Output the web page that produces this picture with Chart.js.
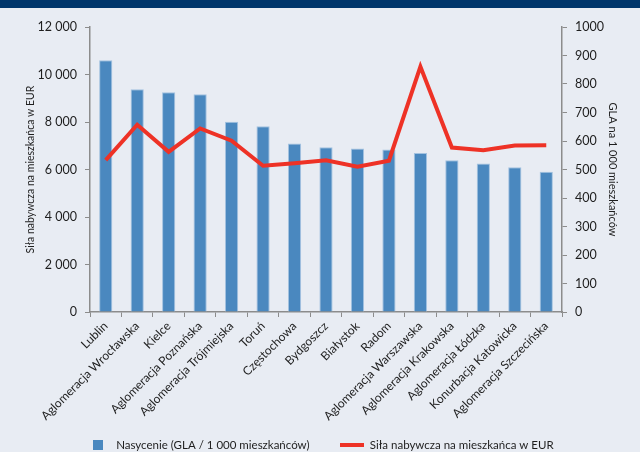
<!DOCTYPE html>
<html>
<head>
<meta charset="utf-8">
<script src="https://cdn.jsdelivr.net/npm/chart.js@4/dist/chart.umd.min.js"></script>
<style>
  html, body { margin: 0; padding: 0; }
  body {
    width: 640px;
    height: 452px;
    background: linear-gradient(#00366b 0, #00366b 8px, #e8ecf3 8px);
  }
  canvas { display: block; }
</style>
</head>
<body>
<canvas id="city_chart" width="640" height="452"></canvas>
<script>
const city_labels = [
    "Lublin", "Aglomeracja Wrocławska", "Kielce", "Aglomeracja Poznańska",
    "Aglomeracja Trójmiejska", "Toruń", "Częstochowa", "Bydgoszcz", "Białystok",
    "Radom", "Aglomeracja Warszawska", "Aglomeracja Krakowska", "Aglomeracja Łódzka",
    "Konurbacja Katowicka", "Aglomeracja Szczecińska"
];
const bar_values = [10600, 9380, 9250, 9170, 8010, 7820, 7100, 6940, 6880, 6840, 6690, 6390, 6250, 6090, 5910];
const line_values = [533, 657, 562, 644, 601, 513, 522, 532, 510, 531, 861, 577, 568, 584, 585];
const bar_label = "Nasycenie (GLA / 1 000 mieszkańców)";
const line_label = "Siła nabywcza na mieszkańca w EUR";

const blue = "#4a88bf";
const red = "#ee3226";
const axis_grey = "#8c8c8c";
const text_col = "#1e1e1e";

// small pictures used as legend markers
function legendIcon(w, h, colour)
{
    const c = document.createElement("canvas");
    c.width = w;
    c.height = h;
    const g = c.getContext("2d");
    g.fillStyle = colour;
    g.fillRect(0, 0, w, h);
    return c;
}
const bar_icon = legendIcon(10, 10, blue);
const line_icon = legendIcon(24, 4, red);

function spaced(v)
{
    return String(v).replace(/\B(?=(\d{3})+(?!\d))/g, " ");
}

Chart.defaults.font.family = "Lato, 'Open Sans', sans-serif";
Chart.defaults.font.size = 12;
Chart.defaults.color = text_col;

const city_chart = new Chart("city_chart",
{
    type: "bar",
    data:
    {
        labels: city_labels,
        datasets:
        [
            {
                label: bar_label,
                data: bar_values,
                yAxisID: "y",
                backgroundColor: blue,
                borderColor: "#a3c2e0",
                borderWidth: 1,
                barPercentage: 0.42,
                categoryPercentage: 1,
                order: 1
            },
            {
                type: "line",
                label: line_label,
                data: line_values,
                yAxisID: "y1",
                borderColor: red,
                backgroundColor: red,
                borderWidth: 4,
                pointRadius: 0,
                tension: 0,
                fill: false,
                order: 0
            }
        ]
    },
    options:
    {
        animation: false,
        responsive: false,
        layout:
        {
            padding: { top: 27, left: 0, right: 0, bottom: -8.75 }
        },
        plugins:
        {
            tooltip: { enabled: false },
            legend:
            {
                position: "bottom",
                labels:
                {
                    usePointStyle: true,
                    pointStyleWidth: 24,
                    padding: 10,
                    font: { size: 11.5 },
                    // trailing spaces widen the gap between the two entries
                    generateLabels: (chart) => [
                        { text: bar_label + "       ", pointStyle: bar_icon, datasetIndex: 0, lineWidth: 0, fontColor: text_col },
                        { text: line_label, pointStyle: line_icon, datasetIndex: 1, lineWidth: 0, fontColor: text_col }
                    ]
                }
            }
        },
        scales:
        {
            x:
            {
                grid:
                {
                    drawOnChartArea: false,
                    color: axis_grey,
                    tickLength: 5,
                    offset: true
                },
                border: { color: axis_grey, width: 1.5 },
                ticks:
                {
                    autoSkip: false,
                    minRotation: 45,
                    maxRotation: 45,
                    padding: 2,
                    font: { size: 12 }
                },
                afterFit: (scale) => { scale.height = 117.25; }
            },
            y:
            {
                position: "left",
                min: 0,
                max: 12000,
                grid:
                {
                    drawOnChartArea: false,
                    color: axis_grey,
                    tickLength: 5
                },
                border: { color: axis_grey, width: 1.5 },
                ticks:
                {
                    stepSize: 2000,
                    padding: 8,
                    font: { size: 12.5 },
                    callback: (v) => spaced(v)
                },
                title:
                {
                    display: true,
                    text: line_label,
                    font: { size: 10.5 },
                    padding: { top: 24, bottom: 0 }
                },
                afterFit: (scale) => { scale.width = 90; }
            },
            y1:
            {
                position: "right",
                min: 0,
                max: 1000,
                grid:
                {
                    drawOnChartArea: false,
                    color: axis_grey,
                    tickLength: 5
                },
                border: { color: axis_grey, width: 1.5 },
                ticks:
                {
                    stepSize: 100,
                    padding: 8,
                    font: { size: 12.5 },
                    callback: (v) => String(v)
                },
                title:
                {
                    display: true,
                    text: "GLA na 1 000 mieszkańców",
                    font: { size: 11 },
                    padding: { top: 21, bottom: 0 }
                },
                afterFit: (scale) => { scale.width = 78; }
            }
        }
    }
});
</script>
</body>
</html>
